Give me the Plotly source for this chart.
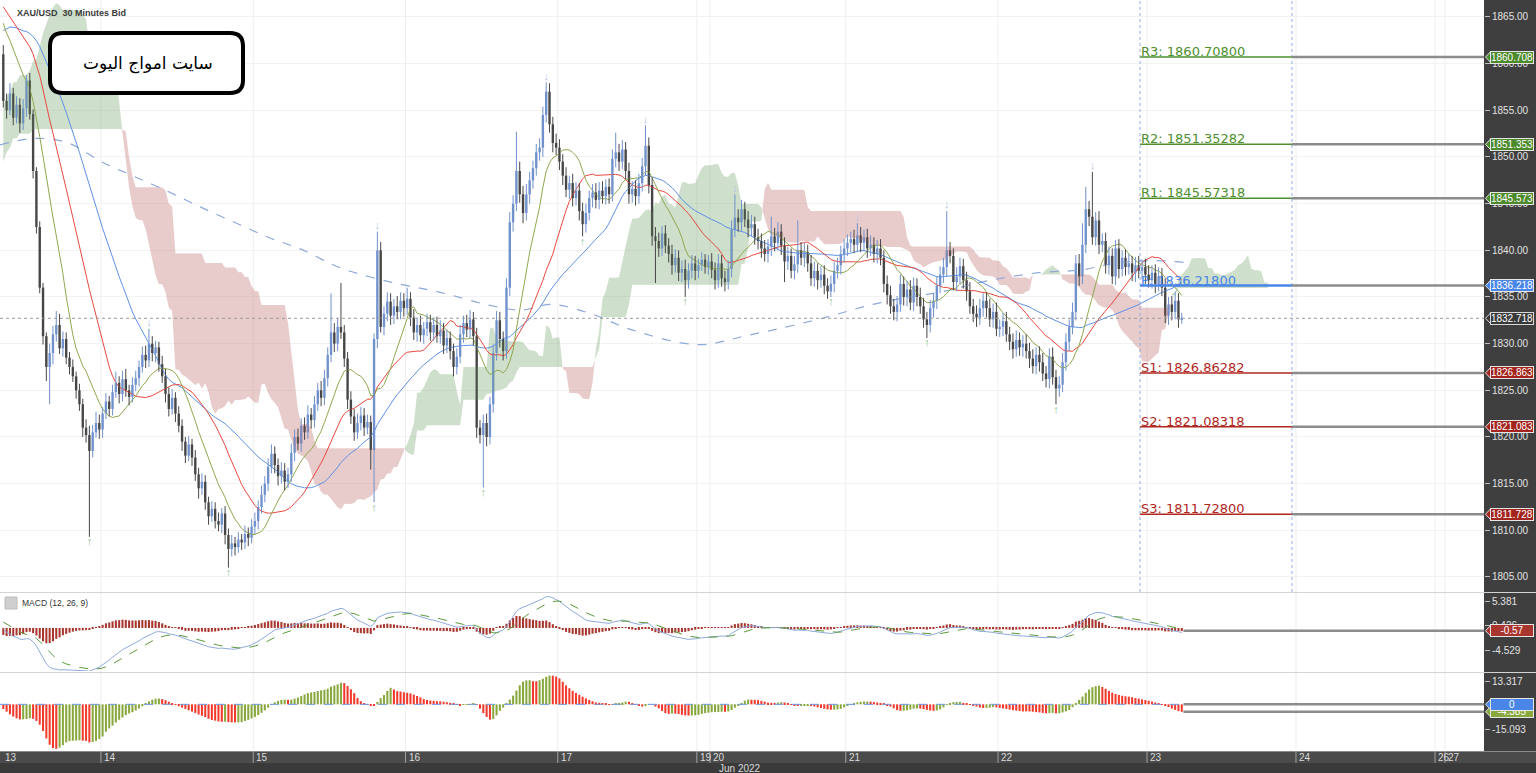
import numpy as np
import pandas as pd
import plotly.graph_objects as go

# ------------------------------------------------------------------ data
# closes of the session before the first visible bar (estimated from where the averages/cloud enter)
pre_closes = [
    1850, 1852, 1851, 1853, 1852, 1854, 1853, 1855, 1854, 1852,
    1853, 1851, 1852, 1854, 1856, 1855, 1853, 1854, 1852, 1851,
    1853, 1854, 1852, 1850, 1851, 1853, 1852, 1850, 1849, 1851,
    1850, 1848, 1849, 1847, 1848, 1846, 1845, 1843,
    1837, 1836, 1841, 1846, 1851, 1855, 1858, 1860,
    1862, 1861, 1863, 1862, 1860, 1861, 1862, 1861,
    1863, 1865, 1866, 1868, 1867, 1869, 1868, 1867, 1869, 1870,
    1868, 1867, 1868, 1866, 1867, 1868, 1866, 1865, 1866, 1867,
    1865, 1866, 1864, 1865, 1863, 1861,
]

# 30-minute closes, 13 Jun -> 23 Jun 2022
closes = [
    1856.0, 1855.0, 1856.8, 1854.2, 1855.6, 1853.6, 1855.2, 1858.2, 1854.6, 1848.5,
    1842.5, 1836.0, 1830.8, 1827.5, 1829.0, 1831.0, 1832.0, 1829.5, 1830.5, 1828.5,
    1827.5, 1826.5, 1825.0, 1823.5, 1821.0, 1820.2, 1818.5, 1820.5, 1821.5, 1820.8,
    1822.5, 1823.8, 1823.0, 1824.8, 1825.8, 1824.6, 1826.2, 1825.0, 1824.3, 1825.6,
    1826.3, 1827.5, 1828.8, 1828.2, 1830.0, 1829.0, 1829.6, 1827.8, 1826.5, 1824.6,
    1823.0, 1824.2, 1822.5, 1821.2, 1819.5, 1818.0, 1819.2, 1817.8, 1816.0, 1814.5,
    1815.2, 1813.0, 1811.5, 1812.3, 1811.0, 1810.6, 1811.8, 1809.5, 1808.0, 1808.6,
    1808.2, 1809.0, 1808.7, 1809.6, 1809.2, 1810.4, 1811.0, 1812.5, 1813.8, 1815.0,
    1816.8, 1818.2, 1817.0, 1815.8, 1816.4, 1815.2, 1816.0, 1818.3, 1820.0, 1819.3,
    1821.2, 1820.5, 1822.4, 1821.8, 1823.5, 1825.0, 1824.2, 1826.3, 1828.8, 1831.2,
    1830.0, 1831.8, 1831.2, 1828.4, 1824.0, 1822.2, 1820.5, 1821.5, 1822.3, 1821.0,
    1821.6, 1818.6, 1830.5, 1840.0, 1831.8, 1833.2, 1834.5, 1833.0, 1834.0, 1833.4,
    1834.6, 1833.8, 1834.8, 1832.8, 1831.2, 1832.0, 1830.9, 1831.6, 1832.3, 1831.2,
    1832.0, 1830.8, 1831.4, 1829.8, 1830.6, 1829.2, 1827.5, 1828.6, 1831.0, 1832.2,
    1831.5, 1832.6, 1830.8, 1821.0, 1820.2, 1821.5, 1820.0, 1823.5, 1829.0, 1832.5,
    1830.5, 1829.2, 1836.0, 1843.0, 1845.0, 1848.5, 1846.0, 1844.0, 1846.0, 1847.5,
    1848.8, 1850.5, 1851.0, 1854.5, 1857.0, 1853.5, 1851.5, 1851.0, 1849.5, 1848.0,
    1846.5, 1847.2, 1845.6, 1846.4, 1844.2, 1842.8, 1844.0, 1845.6, 1846.2, 1845.4,
    1846.4, 1845.8, 1846.8, 1846.0, 1849.8, 1850.5, 1849.5, 1850.8, 1848.5, 1846.0,
    1846.6, 1845.8, 1847.2, 1849.0, 1851.2, 1847.0, 1841.5, 1841.0, 1840.2, 1841.8,
    1840.5, 1839.6, 1838.4, 1839.2, 1837.6, 1838.0, 1836.8, 1837.8, 1838.6, 1837.8,
    1838.4, 1839.0, 1838.2, 1838.8, 1837.9, 1836.8, 1838.6, 1837.0, 1836.6, 1838.0,
    1842.2, 1843.5, 1843.0, 1844.4, 1843.3, 1842.4, 1842.8, 1841.4, 1841.0, 1840.2,
    1839.6, 1840.4, 1841.5, 1840.8, 1842.0, 1840.5, 1838.8, 1839.4, 1837.8, 1838.5,
    1840.0, 1839.2, 1839.8, 1838.6, 1837.0, 1837.8, 1836.8, 1837.4, 1836.2, 1835.6,
    1836.4, 1837.8, 1838.4, 1839.6, 1840.2, 1840.8, 1841.2, 1840.6, 1841.6, 1840.8,
    1841.4, 1840.2, 1840.6, 1839.6, 1840.2, 1839.2, 1836.4, 1835.2, 1834.0, 1833.4,
    1834.2, 1836.4, 1835.0, 1835.8, 1834.4, 1836.2, 1835.0, 1834.0, 1832.6, 1832.0,
    1833.8, 1834.6, 1836.2, 1837.4, 1838.2, 1840.0, 1839.4, 1836.6, 1837.2, 1838.3,
    1836.8, 1835.6, 1834.0, 1833.2, 1832.8, 1833.8, 1834.6, 1833.8, 1832.6, 1833.4,
    1831.6, 1831.8, 1832.4, 1831.0, 1830.2, 1829.4, 1830.4, 1829.6, 1830.0, 1829.2,
    1828.4, 1827.6, 1828.8, 1828.0, 1826.8, 1826.2, 1828.6, 1826.4, 1825.2, 1825.6,
    1828.0, 1830.2, 1831.8, 1833.4, 1838.6, 1837.2, 1840.6, 1844.4, 1843.6, 1841.4,
    1843.2, 1840.6, 1841.0, 1838.4, 1839.4, 1837.2, 1840.2, 1838.0, 1839.2, 1838.2,
    1838.6, 1837.6, 1838.4, 1837.8, 1838.2, 1837.4, 1836.8, 1837.6, 1836.4, 1837.2,
    1836.0, 1833.0, 1834.2, 1833.4, 1834.6, 1832.6, 1832.7,
]

upper_wicks = [
    1.0, 0.8, 1.1, 0.6, 0.9, 0.7, 1.0, 0.6, 0.8, 0.5,
    0.4, 0.6, 0.5, 0.4, 1.0, 0.9, 1.5, 1.2, 0.8, 0.7,
    0.6, 0.8, 0.5, 0.7, 0.6, 0.9, 1.0, 0.8, 1.2, 0.9,
    0.7, 0.9, 0.6, 0.8, 1.2, 0.7, 0.9, 1.1, 0.6, 0.8,
    0.8, 0.7, 0.9, 1.0, 1.6, 0.8, 0.7, 0.6, 0.9, 0.8,
    0.7, 0.9, 0.6, 0.8, 0.7, 0.5, 0.9, 0.6, 0.8, 0.7,
    0.9, 0.7, 0.6, 0.8, 0.7, 0.9, 0.6, 0.8, 0.7, 0.9,
    0.7, 0.8, 0.6, 0.9, 0.7, 0.8, 0.9, 0.7, 1.0, 0.8,
    0.9, 1.0, 0.8, 0.7, 0.9, 0.8, 0.7, 1.0, 0.8, 0.9,
    0.8, 0.9, 1.0, 0.7, 0.9, 0.8, 1.0, 0.9, 0.8, 4.2,
    1.0, 0.9, 4.7, 0.8, 0.7, 0.9, 0.8, 1.0, 0.9, 0.8,
    0.8, 0.7, 0.6, 2.0, 0.9, 0.8, 1.0, 0.9, 0.8, 1.1,
    0.9, 0.8, 1.2, 0.7, 0.9, 0.8, 1.0, 0.7, 0.9, 0.8,
    0.8, 0.9, 1.1, 0.8, 0.9, 0.7, 0.8, 0.9, 1.0, 0.8,
    0.9, 1.0, 0.8, 0.9, 0.8, 0.9, 1.0, 0.8, 0.9, 1.0,
    0.9, 0.8, 1.0, 1.1, 0.9, 4.2, 1.0, 0.9, 1.1, 0.9,
    0.8, 0.9, 1.0, 0.9, 1.0, 0.9, 0.8, 1.0, 0.9, 0.8,
    0.9, 0.8, 1.0, 0.9, 0.8, 0.9, 1.0, 0.8, 0.9, 1.0,
    0.9, 1.0, 0.8, 0.9, 1.0, 2.1, 0.9, 1.0, 0.8, 0.9,
    0.8, 0.9, 1.0, 0.9, 2.2, 0.9, 0.8, 1.0, 0.9, 0.8,
    0.9, 0.8, 1.0, 0.9, 0.8, 0.9, 1.0, 0.8, 0.9, 0.8,
    0.7, 0.8, 0.6, 0.7, 0.9, 0.8, 1.0, 0.9, 0.8, 0.9,
    1.0, 2.5, 0.9, 1.0, 0.8, 0.9, 1.0, 0.8, 0.9, 0.8,
    0.9, 0.8, 2.1, 0.9, 1.0, 0.8, 0.9, 1.0, 0.8, 0.9,
    3.2, 0.9, 1.0, 0.8, 0.9, 1.0, 0.8, 0.9, 1.0, 0.8,
    0.9, 1.0, 0.8, 0.9, 1.0, 0.9, 0.8, 1.0, 1.3, 0.9,
    0.8, 0.9, 1.0, 0.8, 0.9, 1.0, 0.8, 0.9, 1.0, 0.8,
    0.9, 1.0, 0.8, 0.9, 1.0, 0.9, 0.8, 1.0, 0.9, 0.8,
    0.9, 0.8, 1.0, 0.9, 1.0, 4.2, 0.9, 0.8, 1.0, 0.9,
    0.8, 0.9, 1.0, 0.8, 0.9, 1.0, 0.8, 0.9, 1.0, 0.9,
    1.0, 0.8, 0.9, 1.0, 0.8, 0.9, 1.0, 0.8, 0.9, 1.0,
    0.9, 1.0, 0.8, 0.9, 1.0, 0.8, 0.9, 1.0, 0.8, 0.9,
    1.0, 0.9, 0.8, 1.0, 0.9, 1.0, 2.3, 2.4, 0.9, 4.8,
    0.9, 1.0, 0.8, 0.9, 1.0, 0.8, 0.9, 1.0, 0.8, 0.9,
    1.0, 0.8, 0.9, 1.0, 0.8, 0.9, 1.0, 0.8, 0.9, 1.0,
    0.9, 1.0, 0.8, 0.9, 1.0, 0.8, 0.6,
]

lower_wicks = [
    0.7, 0.9, 0.5, 0.8, 0.6, 1.0, 0.7, 0.9, 0.6, 0.8,
    0.7, 0.6, 0.9, 1.5, 4.0, 1.2, 0.8, 0.6, 0.9, 0.7,
    0.8, 0.6, 0.9, 0.7, 1.0, 0.8, 9.2, 0.7, 0.6, 1.0,
    0.9, 0.6, 0.8, 0.7, 0.6, 1.0, 0.8, 0.7, 0.9, 0.6,
    0.7, 0.9, 0.6, 0.8, 0.7, 0.9, 1.0, 0.8, 0.7, 0.9,
    0.8, 0.6, 0.9, 0.7, 1.0, 0.8, 0.6, 0.9, 0.7, 1.1,
    0.7, 0.8, 0.9, 0.6, 0.8, 0.7, 0.9, 1.0, 2.0, 0.8,
    0.9, 0.6, 0.8, 0.7, 0.9, 0.6, 0.8, 0.9, 0.7, 0.8,
    0.8, 0.7, 0.9, 1.0, 0.8, 0.9, 0.7, 0.8, 0.9, 0.7,
    0.9, 0.8, 0.7, 0.9, 0.8, 0.7, 0.9, 0.8, 0.9, 0.8,
    0.9, 0.8, 0.7, 0.9, 1.0, 0.8, 0.9, 0.7, 0.8, 0.9,
    0.7, 2.1, 5.6, 1.0, 0.6, 0.9, 0.8, 1.0, 0.9, 0.8,
    0.8, 0.9, 0.7, 0.9, 0.8, 1.0, 0.7, 0.9, 0.8, 0.9,
    0.9, 0.7, 0.8, 0.9, 0.8, 0.9, 1.0, 0.8, 0.7, 0.9,
    0.8, 0.9, 1.0, 1.1, 0.9, 5.6, 1.0, 0.8, 0.9, 0.8,
    0.9, 1.0, 0.8, 0.9, 1.0, 0.8, 0.9, 1.1, 0.8, 1.0,
    0.9, 0.8, 0.9, 1.0, 0.8, 0.9, 1.0, 0.8, 0.9, 1.0,
    0.8, 1.0, 0.9, 0.8, 1.0, 1.3, 0.9, 0.8, 1.0, 0.9,
    1.0, 0.8, 0.9, 1.0, 0.8, 0.9, 1.0, 0.8, 0.9, 1.0,
    0.9, 1.0, 0.8, 0.9, 1.0, 0.9, 1.0, 4.5, 0.9, 0.8,
    0.8, 0.9, 1.0, 0.8, 0.9, 1.0, 1.8, 0.9, 0.8, 1.0,
    0.8, 0.6, 0.7, 0.8, 0.9, 1.0, 0.8, 0.9, 1.0, 0.8,
    0.9, 0.8, 1.0, 0.9, 0.8, 1.0, 0.9, 0.8, 0.9, 1.0,
    0.8, 0.9, 1.0, 0.9, 0.8, 1.0, 2.2, 0.9, 0.8, 0.9,
    0.9, 0.8, 1.0, 0.9, 0.8, 0.9, 1.0, 0.8, 0.9, 0.8,
    0.6, 0.9, 0.8, 1.0, 0.9, 0.8, 1.0, 0.9, 0.8, 1.0,
    0.9, 1.0, 0.8, 0.9, 1.0, 0.8, 0.9, 1.0, 0.8, 0.9,
    1.0, 0.8, 0.9, 1.0, 0.8, 0.9, 1.0, 0.8, 0.9, 1.4,
    0.8, 1.0, 0.9, 0.8, 0.9, 1.0, 0.8, 0.9, 1.0, 0.8,
    0.9, 1.0, 0.8, 0.9, 1.0, 0.8, 0.9, 1.0, 0.8, 0.9,
    0.8, 0.9, 1.0, 0.8, 0.9, 1.0, 0.8, 0.9, 1.0, 0.8,
    1.0, 0.8, 0.9, 1.0, 0.8, 0.9, 1.0, 0.8, 1.7, 0.9,
    0.8, 0.9, 1.0, 0.8, 0.9, 1.0, 0.8, 0.9, 1.0, 0.8,
    0.9, 1.0, 0.8, 0.9, 1.0, 0.8, 0.9, 1.0, 0.8, 0.9,
    0.8, 0.9, 1.0, 0.8, 0.9, 1.0, 0.8, 0.9, 1.0, 0.8,
    0.9, 0.8, 1.0, 0.9, 0.8, 0.9, 0.5,
]

# long (dashed) moving average at sparse bars
long_ma_bars = [-1.0, 9.4, 19.6, 29.6, 39.6, 49.8, 59.8, 69.8, 80, 90, 102, 117, 132, 147, 156.5,
                165.6, 177.6, 189.7, 210, 225, 245, 265, 285.5, 295.5, 312.7, 325.7, 335.6, 346, 356.8]
long_ma_vals = [1851.3, 1852.0, 1851.5, 1849.5, 1847.9, 1846.3, 1844.6, 1843.0, 1841.4, 1840.1, 1838.1,
                1836.6, 1835.5, 1834.1, 1833.6, 1834.2, 1833.2, 1831.5, 1829.9, 1830.9, 1832.5, 1834.4,
                1835.7, 1836.6, 1837.6, 1837.9, 1838.6, 1838.9, 1838.7]

pivot_names = ["R3", "R2", "R1", "P", "S1", "S2", "S3"]
pivot_values = [1860.70800, 1851.35282, 1845.57318, 1836.21800, 1826.86282, 1821.08318, 1811.72800]
last_price = 1832.718
macd_tag_value = -0.57
ao_tag_values = [0.0, -4.385]

first_day_label = "13"
day_labels = ["14", "15", "16", "17", "19", "20", "21", "22", "23", "24", "26", "27"]
day_start_bars = [30, 76, 122, 168, 210, 214, 255, 301, 346, 391, 433, 436]
month_label = "Jun 2022"

fractal_low_bars = [26, 68, 112, 145, 175, 206, 250, 279, 318]
fractal_high_bars = [44, 113, 164, 194, 221, 258, 285, 329]

macd_ticks = [5.381, 0.426, -4.529]
ao_ticks = [13.317, -15.093]

# ------------------------------------------------------------------ layout constants
W_PX, H_PX = 1536, 773
M_R, M_B = 52, 22
PW, PH = W_PX - M_R, H_PX - M_B
X0, X1 = -1.0, 447.3              # bar-index range shown
PIV_X0, PIV_X1 = 343.4, 389.3     # pivot period

def fx(px):
    return px / PW

def fy(py):
    return 1 - py / PH

main_dom = [fy(592), 1.0]
macd_dom = [fy(671), fy(593)]
ao_dom = [0.0, fy(673)]
main_rng = [1803.39, 1866.82]
macd_rng = [-8.837, 7.166]
ao_rng = [-27.45, 18.43]

# ------------------------------------------------------------------ derived series
n = len(closes)
opens = [pre_closes[-1]] + closes[:-1]
highs = [max(o, c) + u for o, c, u in zip(opens, closes, upper_wicks)]
lows = [min(o, c) - l for o, c, l in zip(opens, closes, lower_wicks)]
W = len(pre_closes)
fc = pd.Series(pre_closes + closes, dtype=float)
fh = pd.Series(pre_closes + highs, dtype=float)
fl = pd.Series(pre_closes + lows, dtype=float)
xs = np.arange(n)

def sma(k):
    return fc.rolling(k).mean().values[W:]

tenkan = (fh.rolling(9).max() + fl.rolling(9).min()) / 2
kijun = (fh.rolling(26).max() + fl.rolling(26).min()) / 2
span_a = ((tenkan + kijun) / 2).values
span_b = ((fh.rolling(52).max() + fl.rolling(52).min()) / 2).values
disp = 26
cx = np.arange(0, n + disp)
src = cx - disp + W
ca, cb = span_a[src], span_b[src]

ema12 = fc.ewm(span=12, adjust=False).mean()
ema26 = fc.ewm(span=26, adjust=False).mean()
macd = ema12 - ema26
sig = macd.ewm(span=9, adjust=False).mean()
hist = (macd - sig).values[W:]
macd_v = macd.values[W:]
sig_v = sig.values[W:]

med = (fh + fl) / 2
ao = (med.rolling(5).mean() - med.rolling(34).mean()).values
ao_v = ao[W:]
ao_prev = ao[W - 1:-1]
ao_up = ao_v >= ao_prev

# ------------------------------------------------------------------ figure
fig = go.Figure()
GREEN_CLOUD = "rgba(120,165,110,0.36)"
RED_CLOUD = "rgba(190,110,110,0.36)"

# cloud polygons
runs = []
cur = None
for i in range(len(cx)):
    d = ca[i] - cb[i]
    s = d >= 0
    if cur is None:
        cur = {"s": s, "x": [cx[i]], "a": [ca[i]], "b": [cb[i]]}
        continue
    if s == cur["s"]:
        cur["x"].append(cx[i]); cur["a"].append(ca[i]); cur["b"].append(cb[i])
    else:
        d0 = ca[i - 1] - cb[i - 1]
        t = d0 / (d0 - d) if d0 != d else 0.5
        xc = cx[i - 1] + t
        yc = ca[i - 1] + t * (ca[i] - ca[i - 1])
        cur["x"].append(xc); cur["a"].append(yc); cur["b"].append(yc)
        runs.append(cur)
        cur = {"s": s, "x": [xc, cx[i]], "a": [yc, ca[i]], "b": [yc, cb[i]]}
runs.append(cur)
for r in runs:
    px_ = list(r["x"]) + list(r["x"])[::-1]
    py_ = list(r["a"]) + list(r["b"])[::-1]
    fig.add_trace(go.Scatter(x=px_, y=py_, mode="lines", fill="toself",
                             fillcolor=GREEN_CLOUD if r["s"] else RED_CLOUD,
                             line=dict(width=0), xaxis="x", yaxis="y"))

# long dashed average
fig.add_trace(go.Scatter(x=long_ma_bars, y=long_ma_vals, mode="lines",
                         line=dict(color="#8ea8da", width=1.2, dash="dash", shape="spline"),
                         xaxis="x", yaxis="y"))
# moving averages
fig.add_trace(go.Scatter(x=xs, y=sma(40), mode="lines", line=dict(color="#5f91e6", width=1), xaxis="x", yaxis="y"))
fig.add_trace(go.Scatter(x=xs, y=sma(24), mode="lines", line=dict(color="#e8493e", width=1), xaxis="x", yaxis="y"))
fig.add_trace(go.Scatter(x=xs, y=sma(12), mode="lines", line=dict(color="#8fa84e", width=1), xaxis="x", yaxis="y"))

# candles
UP_C, DN_C = "#7192cc", "#474747"
for is_up, col in [(True, UP_C), (False, DN_C)]:
    idx = [i for i in range(n) if (closes[i] >= opens[i]) == is_up]
    wx, wy = [], []
    for i in idx:
        wx += [i, i, None]
        wy += [lows[i], highs[i], None]
    fig.add_trace(go.Scatter(x=wx, y=wy, mode="lines", line=dict(color=col, width=1),
                             xaxis="x", yaxis="y"))
    fig.add_trace(go.Bar(x=idx, y=[max(abs(closes[i] - opens[i]), 0.12) for i in idx],
                         base=[min(opens[i], closes[i]) for i in idx], width=0.72,
                         marker=dict(color=col, line=dict(width=0)), xaxis="x", yaxis="y"))

# fractal arrows
fig.add_trace(go.Scatter(x=fractal_low_bars, y=[lows[i] for i in fractal_low_bars], mode="text",
                         text=["↑"] * len(fractal_low_bars), textposition="bottom center",
                         textfont=dict(color="#8fc08f", size=11), xaxis="x", yaxis="y"))
fig.add_trace(go.Scatter(x=fractal_high_bars, y=[highs[i] for i in fractal_high_bars], mode="text",
                         text=["↓"] * len(fractal_high_bars), textposition="top center",
                         textfont=dict(color="#b3c5e6", size=11), xaxis="x", yaxis="y"))

# MACD panel
fig.add_trace(go.Bar(x=xs, y=hist, width=0.62, marker=dict(color="#a8352e", line=dict(width=0)),
                     xaxis="x", yaxis="y2"))
fig.add_trace(go.Scatter(x=xs, y=macd_v, mode="lines", line=dict(color="#8eaadc", width=1),
                         xaxis="x", yaxis="y2"))
fig.add_trace(go.Scatter(x=xs, y=sig_v, mode="lines", line=dict(color="#5c9a3c", width=1, dash="dash"),
                         xaxis="x", yaxis="y2"))

# oscillator panel
fig.add_trace(go.Bar(x=xs[ao_up], y=ao_v[ao_up], width=0.62,
                     marker=dict(color="#88a83e", line=dict(width=0)), xaxis="x", yaxis="y3"))
fig.add_trace(go.Bar(x=xs[~ao_up], y=ao_v[~ao_up], width=0.62,
                     marker=dict(color="#f23a2c", line=dict(width=0)), xaxis="x", yaxis="y3"))

shapes = []
ann = []

# dark axis areas
shapes.append(dict(type="rect", xref="paper", yref="paper", x0=1, x1=W_PX / PW, y0=fy(H_PX), y1=1,
                   fillcolor="#3f3f3f", line=dict(width=0), layer="below"))
shapes.append(dict(type="rect", xref="paper", yref="paper", x0=0, x1=W_PX / PW, y0=fy(763), y1=fy(751),
                   fillcolor="#4b4b4b", line=dict(width=0), layer="below"))
shapes.append(dict(type="rect", xref="paper", yref="paper", x0=0, x1=W_PX / PW, y0=fy(H_PX), y1=fy(763),
                   fillcolor="#3a3a3a", line=dict(width=0), layer="below"))
# panel separators
for py in [592.5, 672.5]:
    shapes.append(dict(type="line", xref="paper", yref="paper", x0=0, x1=W_PX / PW, y0=fy(py), y1=fy(py),
                       line=dict(color="#d4d4d4", width=1)))
shapes.append(dict(type="line", xref="paper", yref="paper", x0=0, x1=W_PX / PW, y0=fy(751.5), y1=fy(751.5),
                   line=dict(color="#8a8a8a", width=1)))
# faint day gridlines + date separators
for b in day_start_bars:
    shapes.append(dict(type="line", xref="x", yref="paper", x0=b - 0.5, x1=b - 0.5, y0=0, y1=1,
                       line=dict(color="#eeeeee", width=1), layer="below"))
    shapes.append(dict(type="line", xref="x", yref="paper", x0=b - 0.5, x1=b - 0.5, y0=fy(763), y1=fy(751),
                       line=dict(color="#a0a0a0", width=1)))
for lab, b in zip(day_labels, day_start_bars):
    ann.append(dict(xref="x", yref="paper", x=b - 0.2, y=fy(757.5), text=lab, showarrow=False,
                    xanchor="left", yanchor="middle", font=dict(color="#dcdcdc", size=10)))
ann.append(dict(xref="paper", yref="paper", x=fx(3), y=fy(757.5), text=first_day_label, showarrow=False,
                xanchor="left", yanchor="middle", font=dict(color="#dcdcdc", size=10)))
ann.append(dict(xref="paper", yref="paper", x=fx(740), y=fy(768), text=month_label, showarrow=False,
                xanchor="center", yanchor="middle", font=dict(color="#dcdcdc", size=10)))

# current price dotted line
shapes.append(dict(type="line", xref="paper", yref="y", x0=0, x1=1, y0=last_price, y1=last_price,
                   line=dict(color="#9a9a9a", width=1, dash="dot")))
# pivot period boundaries
for xb in [PIV_X0, PIV_X1]:
    shapes.append(dict(type="line", xref="x", yref="paper", x0=xb, x1=xb, y0=main_dom[0], y1=1,
                       line=dict(color="#8fb0e6", width=1, dash="dot")))

piv_col = {"R": "#4f8f2f", "P": "#4a86e8", "S": "#b0271f"}
tag_col = {"R": "#4c8a2c", "P": "#4a86e8", "S": "#a3241c"}

def add_tag(val, text, bg, yref, half_units, border="#e6e6e6"):
    shapes.append(dict(type="path", xref="paper", yref=yref,
                       path=f"M {fx(1491)},{val + half_units} L {fx(1485.5)},{val} L {fx(1491)},{val - half_units} Z",
                       fillcolor=bg, line=dict(color=border, width=1)))
    ann.append(dict(xref="paper", yref=yref, x=fx(1490), y=val, text=text, showarrow=False,
                    xanchor="left", yanchor="middle", width=42, align="center", bgcolor=bg,
                    bordercolor=border, borderwidth=1, borderpad=0,
                    font=dict(color="white", size=10, family="Liberation Sans")))

for name, val in zip(pivot_names, pivot_values):
    k = name[0]
    shapes.append(dict(type="line", xref="x", yref="y", x0=PIV_X0, x1=PIV_X1, y0=val, y1=val,
                       line=dict(color=piv_col[k], width=2.5 if k == "P" else 1.5)))
    shapes.append(dict(type="line", xref="x", yref="y", x0=PIV_X1, x1=X1, y0=val, y1=val,
                       line=dict(color="#8c8c8c", width=2.5)))
    ann.append(dict(xref="x", yref="y", x=PIV_X0, y=val, text=f"{name}: {val:.5f}", showarrow=False,
                    xanchor="left", yanchor="bottom", yshift=-3, borderpad=0,
                    font=dict(color=piv_col[k], size=13, family="DejaVu Sans")))
    add_tag(val, f"{val:.3f}", tag_col[k], "y", 0.62)
add_tag(last_price, f"{last_price:.3f}", "#3a3a3a", "y", 0.62, border="#d8d8d8")

# MACD and oscillator right-side level lines and tags
shapes.append(dict(type="line", xref="x", yref="y2", x0=n - 0.5, x1=X1, y0=macd_tag_value, y1=macd_tag_value,
                   line=dict(color="#8c8c8c", width=2.5)))
add_tag(macd_tag_value, f"{macd_tag_value:.2f}", "#a8352e", "y2", 1.15)
shapes.append(dict(type="line", xref="x", yref="y3", x0=X0, x1=n - 0.5, y0=0, y1=0,
                   line=dict(color="#6d9ae6", width=1, dash="dash")))
for v in ao_tag_values:
    shapes.append(dict(type="line", xref="x", yref="y3", x0=n - 0.5, x1=X1, y0=v, y1=v,
                       line=dict(color="#8c8c8c", width=2.5)))
for v, bg in zip(ao_tag_values[::-1], ["#88a83e", "#4a86e8"]):
    add_tag(v, f"{v:g}", bg, "y3", 3.2)

# header texts
ann.append(dict(xref="paper", yref="paper", x=fx(15), y=fy(13), text="<b>XAU/USD\u00a0\u00a030 Minutes Bid</b>",
                showarrow=False, xanchor="left", yanchor="middle",
                font=dict(color="#3a3a3a", size=9, family="Liberation Sans")))
shapes.append(dict(type="rect", xref="paper", yref="paper", x0=fx(5), x1=fx(17), y0=fy(609), y1=fy(597),
                   fillcolor="#cfcfcf", line=dict(color="#bdbdbd", width=1)))
ann.append(dict(xref="paper", yref="paper", x=fx(20), y=fy(603), text="MACD (12, 26, 9)",
                showarrow=False, xanchor="left", yanchor="middle",
                font=dict(color="#333333", size=8.5, family="Liberation Sans")))

# watermark box
bx0, bx1, by0, by1, r = 50, 243, 33, 93, 13
path = (f"M {fx(bx0 + r)},{fy(by0)} L {fx(bx1 - r)},{fy(by0)} Q {fx(bx1)},{fy(by0)} {fx(bx1)},{fy(by0 + r)} "
        f"L {fx(bx1)},{fy(by1 - r)} Q {fx(bx1)},{fy(by1)} {fx(bx1 - r)},{fy(by1)} "
        f"L {fx(bx0 + r)},{fy(by1)} Q {fx(bx0)},{fy(by1)} {fx(bx0)},{fy(by1 - r)} "
        f"L {fx(bx0)},{fy(by0 + r)} Q {fx(bx0)},{fy(by0)} {fx(bx0 + r)},{fy(by0)} Z")
shapes.append(dict(type="path", xref="paper", yref="paper", path=path, fillcolor="white",
                   line=dict(color="black", width=4), layer="above"))
ann.append(dict(xref="paper", yref="paper", x=fx(148), y=fy(63), text="سايت امواج اليوت",
                showarrow=False, xanchor="center", yanchor="middle",
                font=dict(color="black", size=17, family="DejaVu Sans")))

axis_font = dict(color="#e2e2e2", size=10, family="Liberation Sans")
fig.update_layout(
    width=W_PX, height=H_PX,
    margin=dict(l=0, r=M_R, t=0, b=M_B),
    paper_bgcolor="white", plot_bgcolor="white",
    showlegend=False, hovermode=False, barmode="overlay",
    font=dict(family="Liberation Sans"),
    shapes=shapes, annotations=ann,
    xaxis=dict(domain=[0, 1], range=[X0, X1], anchor="y3", showgrid=False, zeroline=False,
               showticklabels=False, ticks="", showline=False),
    yaxis=dict(domain=main_dom, range=main_rng, side="right", anchor="x",
               tickvals=list(range(1805, 1866, 5)), ticktext=[f"{v:.2f}" for v in range(1805, 1866, 5)],
               tickfont=axis_font, ticks="outside", ticklen=5, tickcolor="#bdbdbd",
               showgrid=True, gridcolor="#f2f2f2", zeroline=False),
    yaxis2=dict(domain=macd_dom, range=macd_rng, side="right", anchor="x",
                tickvals=macd_ticks, ticktext=[f"{v:.3f}" for v in macd_ticks],
                tickfont=axis_font, ticks="outside", ticklen=5, tickcolor="#bdbdbd",
                showgrid=False, zeroline=False),
    yaxis3=dict(domain=ao_dom, range=ao_rng, side="right", anchor="x",
                tickvals=ao_ticks, ticktext=[f"{v:.3f}" for v in ao_ticks],
                tickfont=axis_font, ticks="outside", ticklen=5, tickcolor="#bdbdbd",
                showgrid=False, zeroline=False),
)

fig.write_html("out.html", config={"displayModeBar": False},
               post_script="document.body.style.margin='0px';document.body.style.overflow='hidden';")
